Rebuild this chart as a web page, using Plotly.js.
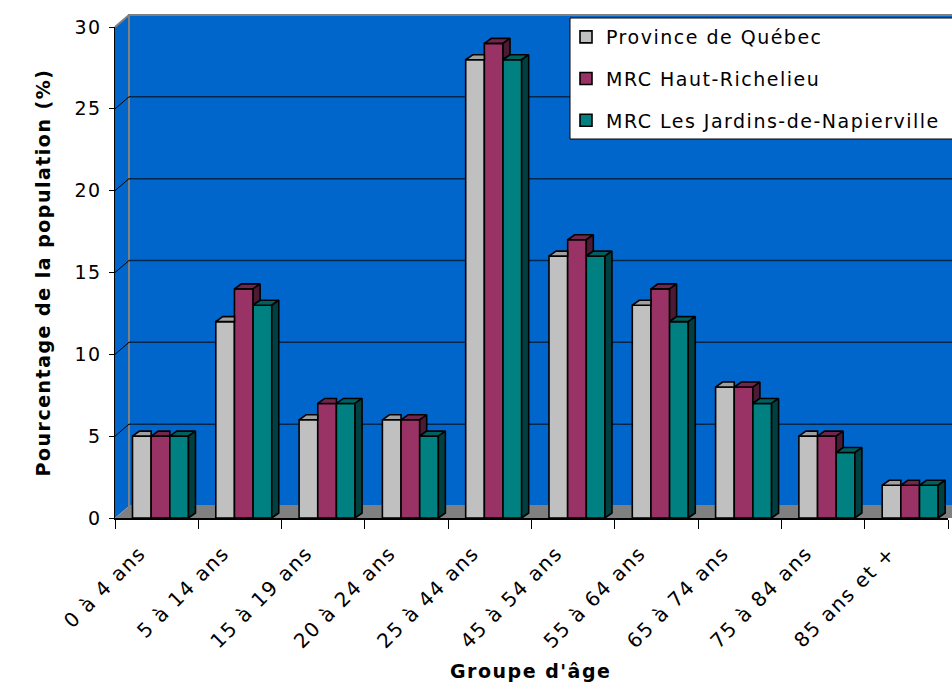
<!DOCTYPE html>
<html>
<head>
<meta charset="utf-8">
<script src="https://cdn.plot.ly/plotly-3.0.1.min.js"></script>
<style>
  html, body { margin: 0; padding: 0; background: #ffffff; overflow: hidden; }
  #wrap { width: 952px; height: 685px; overflow: hidden; }
  text { letter-spacing: 1.5px; }
</style>
</head>
<body>
<div id="wrap"><div id="chart"></div></div>
<script>
// Répartition de la population par groupe d'âge (%)
const categories = ["0 à 4 ans", "5 à 14 ans", "15 à 19 ans", "20 à 24 ans", "25 à 44 ans",
                    "45 à 54 ans", "55 à 64 ans", "65 à 74 ans", "75 à 84 ans", "85 ans et +"];
const seriesNames = ["Province de Québec", "MRC Haut-Richelieu", "MRC Les Jardins-de-Napierville"];
const quebec      = [5, 12, 6, 6, 28, 16, 13, 8, 5, 2];
const hautRich    = [5, 14, 7, 6, 29, 17, 14, 8, 5, 2];
const napierville = [5, 13, 7, 5, 28, 16, 12, 7, 4, 2];
const yTicks = [0, 5, 10, 15, 20, 25, 30];

// Styling
const FONT = "DejaVu Sans, Verdana, sans-serif";
const frontColors = ["#C0C0C0", "#993366", "#008080"];
const topColors   = ["#A0A0A0", "#73264D", "#006060"];
const sideColors  = ["#808080", "#4D1A33", "#004040"];
const WALL = "#0066CC";
const FLOOR = "#808080";

// Figure is a little wider than the visible frame so the legend box runs off the right edge
const W = 1000, H = 685;
const M = { l: 115, r: 52, t: 27, b: 167, autoexpand: false };
const PW = W - M.l - M.r, PH = H - M.t - M.b;
const YMAX = 30;
const px = v => (v - M.l) / PW;                     // pixel -> paper x
const py = v => (H - M.b - v) / PH;                 // pixel -> paper y
const wallDX = 14 / PW, wallDY = 12 / PH;           // back wall offset (paper units)
const RIGHT = 1 + M.r / PW;                          // right edge of the figure in paper units

// Bar geometry (axis units)
const catPx = PW / 10;
const barW = 0.224;
const offsets = [-0.29, -0.066, 0.158];
const depthX = 7 / catPx;
const depthY = 5 / (PH / YMAX);
const labelShift = 0.2;                              // rotated labels sit slightly left of centre

const series = [quebec, hautRich, napierville];
const idx = categories.map((_, i) => i);

const traces = [];

// Front faces of the bars
series.forEach((vals, s) => {
  traces.push({
    type: "bar",
    name: seriesNames[s],
    x: idx,
    y: vals,
    width: barW,
    offset: offsets[s],
    marker: { color: frontColors[s], line: { color: "#000000", width: 1.6 } },
    legendgroup: "g" + s,
    hoverinfo: "y+name"
  });
});

// Top and side faces, clipped where the neighbouring bar stands in front
series.forEach((vals, s) => {
  const topX = [], topY = [], sideX = [], sideY = [];
  vals.forEach((v, i) => {
    const x0 = i + offsets[s], x1 = x0 + barW;
    const next = s < series.length - 1 ? series[s + 1][i] : 0;
    if (next >= v) {
      topX.push(x0, x0 + depthX, x1, x1, x0, null);
      topY.push(v, v + depthY, v + depthY, v, v, null);
    } else {
      topX.push(x0, x0 + depthX, x1 + depthX, x1, x0, null);
      topY.push(v, v + depthY, v + depthY, v, v, null);
      sideX.push(x1, x1, x1 + depthX, x1 + depthX, x1, null);
      sideY.push(next, v, v + depthY, next + depthY, next, null);
    }
  });
  traces.push({
    type: "scatter", mode: "lines", x: topX, y: topY, fill: "toself",
    fillcolor: topColors[s], line: { color: "#000000", width: 1.6 },
    showlegend: false, hoverinfo: "skip"
  });
  if (sideX.length) {
    traces.push({
      type: "scatter", mode: "lines", x: sideX, y: sideY, fill: "toself",
      fillcolor: sideColors[s], line: { color: "#000000", width: 1.6 },
      showlegend: false, hoverinfo: "skip"
    });
  }
});

// Walls, floor and back-wall gridlines
const shapes = [
  { type: "path", xref: "paper", yref: "paper", layer: "below",
    path: `M 0 0 L ${wallDX} ${wallDY} L ${wallDX} ${1 + wallDY} L 0 1 Z`,
    fillcolor: WALL, line: { width: 0 } },
  { type: "rect", xref: "paper", yref: "paper", layer: "below",
    x0: wallDX, x1: RIGHT + 0.05, y0: wallDY, y1: 1 + wallDY,
    fillcolor: WALL, line: { color: "#808080", width: 2 } },
  { type: "line", xref: "paper", yref: "paper", layer: "below",
    x0: 0, y0: 1, x1: wallDX, y1: 1 + wallDY, line: { color: "#808080", width: 2 } },
  { type: "path", xref: "paper", yref: "paper", layer: "below",
    path: `M 0 0 L ${RIGHT + 0.05} 0 L ${RIGHT + 0.05} ${wallDY} L ${wallDX} ${wallDY} Z`,
    fillcolor: FLOOR, line: { width: 0 } }
];
yTicks.filter(v => v > 0 && v < YMAX).forEach(v => {
  const yv = v / YMAX;
  shapes.push({ type: "line", xref: "paper", yref: "paper", layer: "below",
    x0: wallDX, x1: RIGHT + 0.05, y0: yv + wallDY, y1: yv + wallDY,
    line: { color: "#00264D", width: 1.5 } });
  shapes.push({ type: "line", xref: "paper", yref: "paper", layer: "below",
    x0: 0, x1: wallDX, y0: yv, y1: yv + wallDY,
    line: { color: "#000000", width: 1 } });
});
// legend frame (runs past the right edge)
shapes.push({ type: "rect", xref: "paper", yref: "paper", layer: "above",
  x0: px(570), x1: RIGHT + 0.05, y0: py(139), y1: py(18),
  fillcolor: "#ffffff", line: { color: "#000000", width: 1 } });

const boundaries = [];
for (let i = 0; i <= categories.length; i++) boundaries.push(i - 0.5);

const layout = {
  width: W, height: H,
  margin: M,
  paper_bgcolor: "#ffffff",
  plot_bgcolor: "rgba(0,0,0,0)",
  font: { family: FONT, size: 19, color: "#000000" },
  barmode: "overlay",
  showlegend: true,
  legend: {
    x: px(566), y: py(18),
    xanchor: "left", yanchor: "top",
    bgcolor: "rgba(0,0,0,0)", borderwidth: 0,
    font: { family: FONT, size: 19, color: "#000000" },
    traceorder: "grouped", tracegroupgap: 14,
    itemwidth: 30
  },
  xaxis: {
    range: [-0.5, 9.5],
    tickvals: idx.map(i => i - labelShift), ticktext: categories,
    tickangle: -45, ticks: "",
    ticklabelstandoff: 14,
    tickfont: { family: FONT, size: 20 },
    minor: { tickvals: boundaries, ticks: "outside", ticklen: 9, tickcolor: "#000000", tickwidth: 1, showgrid: false },
    showline: true, linecolor: "#000000", linewidth: 1.5,
    showgrid: false, zeroline: false, fixedrange: true
  },
  yaxis: {
    range: [0, YMAX],
    tickvals: yTicks,
    ticks: "outside", ticklen: 5, tickcolor: "#000000", tickwidth: 1,
    ticklabelstandoff: 3,
    tickfont: { family: FONT, size: 19 },
    showline: true, linecolor: "#000000", linewidth: 1.5,
    showgrid: false, zeroline: false, fixedrange: true,
    title: { text: "Pourcentage de la population (%)", standoff: 19,
             font: { family: FONT, size: 19, weight: "bold" } }
  },
  annotations: [
    { text: "Groupe d'âge", xref: "paper", yref: "paper",
      x: px(530), y: py(671), xanchor: "center", yanchor: "middle",
      showarrow: false, font: { family: FONT, size: 19, weight: "bold", color: "#000000" } }
  ],
  shapes: shapes
};

Plotly.newPlot("chart", traces, layout, { displayModeBar: false, staticPlot: true });
</script>
</body>
</html>
